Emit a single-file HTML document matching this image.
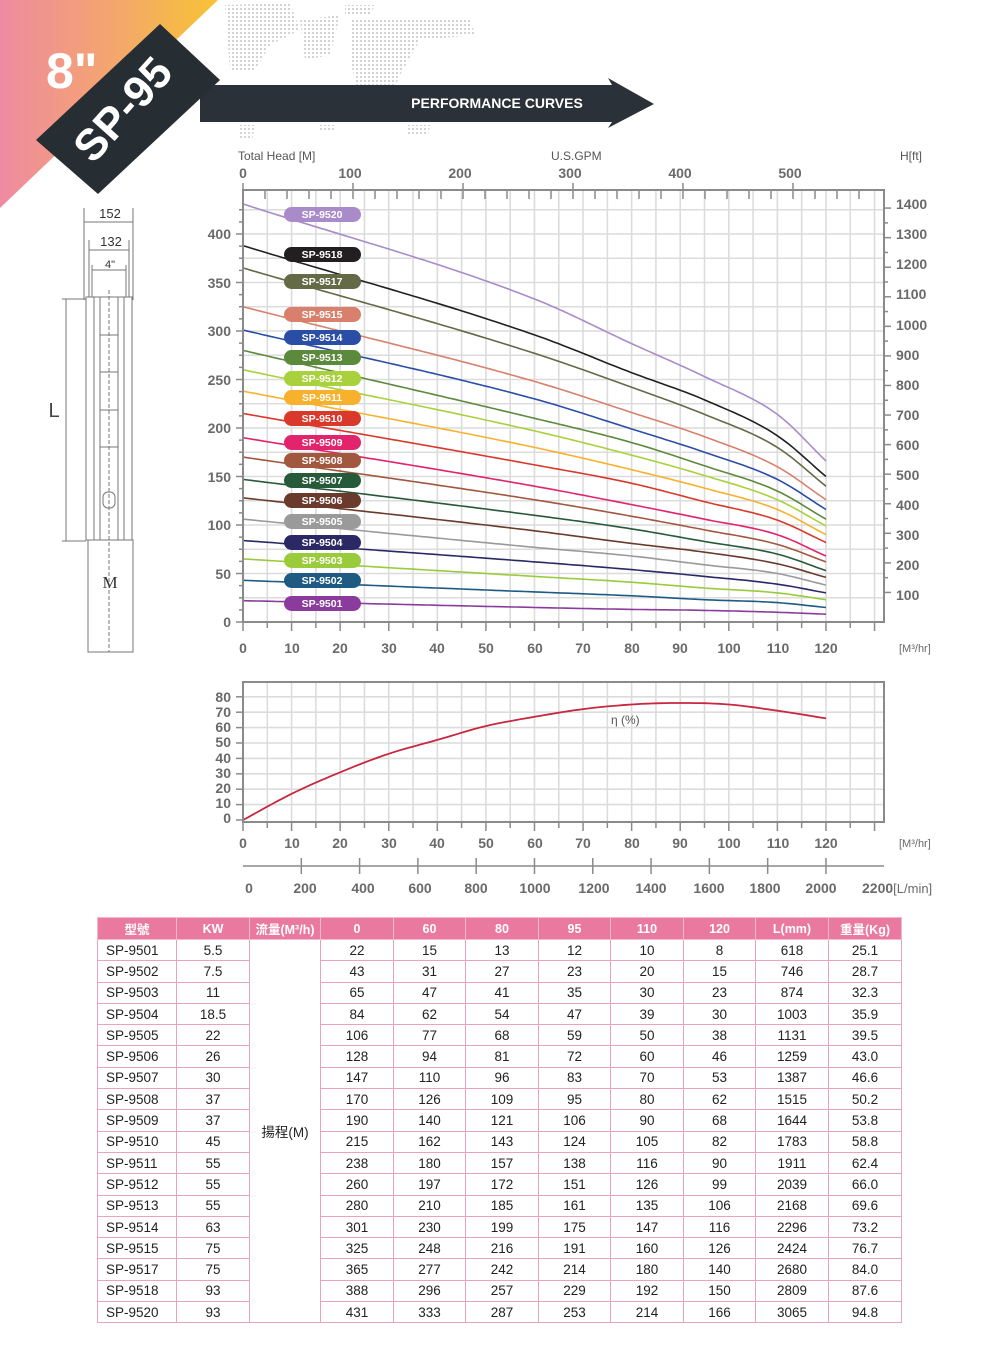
<!DOCTYPE html>
<html><head><meta charset="utf-8">
<style>
html,body{margin:0;padding:0;background:#fff;}
body{width:1004px;height:1353px;position:relative;overflow:hidden;font-family:"Liberation Sans","Noto Sans CJK TC",sans-serif;}
#svg{position:absolute;left:0;top:0;}
table{position:absolute;left:97px;top:917px;width:804px;table-layout:fixed;border-collapse:collapse;font-size:13.5px;color:#222;}
td{border:1px solid #e9a3bd;height:20.3px;padding:0;text-align:center;overflow:hidden;white-space:nowrap;}
th{background:#e9799f;color:#fff;font-weight:bold;height:21px;padding:0;border:1px solid #f3b8cc;font-size:12.5px;white-space:nowrap;overflow:hidden;}
td.m{text-align:left;padding-left:8px;}
</style></head><body>
<svg id="svg" width="1004" height="1353" xmlns="http://www.w3.org/2000/svg" font-family="Liberation Sans, sans-serif">
<defs>
<linearGradient id="bg" x1="0" y1="0" x2="1" y2="0">
<stop offset="0" stop-color="#ef8aa2"/><stop offset="0.55" stop-color="#f4a86a"/><stop offset="1" stop-color="#f7c335"/>
</linearGradient>
<pattern id="dots" width="4" height="4" patternUnits="userSpaceOnUse"><rect width="2" height="2" fill="#c9c9c9"/></pattern>
</defs>
<polygon points="0,0 218,0 0,208" fill="url(#bg)"/>
<g fill="url(#dots)" opacity="0.8">
<path d="M225,5 L290,3 L300,30 L270,45 L255,70 L230,70 Z"/>
<path d="M300,20 L340,15 L330,55 L305,60 Z"/>
<path d="M350,20 L470,18 L475,35 L420,40 L400,75 L385,110 L360,100 L350,60 Z"/>
<path d="M345,5 L375,5 L370,15 L345,15 Z"/>
<path d="M240,125 L255,125 L252,140 L240,140 Z"/>
<path d="M408,125 L430,125 L428,135 L408,135 Z"/>
<path d="M320,125 L335,125 L333,132 L320,132 Z"/>
</g>
<polygon points="200,85 612,85 608,78 654,104 608,128 612,122 200,122" fill="#2b3138"/>
<text x="497" y="108" fill="#fff" font-size="14" font-weight="bold" text-anchor="middle">PERFORMANCE  CURVES</text>
<polygon points="36,140 160,24 220,80 98,194" fill="#262d33"/>
<text x="46" y="88" fill="#fff" font-size="50" font-weight="bold">8"</text>
<text x="0" y="0" fill="#fff" font-size="44" font-weight="bold" transform="translate(93,165) rotate(-48)">SP-95</text>

<g stroke="#777" fill="none" stroke-width="1">
<rect x="86" y="297" width="46" height="243"/>
<rect x="88" y="540" width="45" height="112"/>
<line x1="94" y1="297" x2="94" y2="540"/><line x1="124" y1="297" x2="124" y2="540"/>
<line x1="100" y1="297" x2="100" y2="540"/><line x1="118" y1="297" x2="118" y2="540"/>
<line x1="109" y1="290" x2="109" y2="652" stroke-dasharray="4,2"/>
<line x1="100" y1="335" x2="118" y2="335"/><line x1="100" y1="372" x2="118" y2="372"/>
<line x1="100" y1="410" x2="118" y2="410"/><line x1="100" y1="447" x2="118" y2="447"/>
<rect x="103" y="492" width="12" height="16" rx="5"/>
<line x1="84" y1="208" x2="84" y2="300"/><line x1="133" y1="208" x2="133" y2="300"/>
<line x1="84" y1="222" x2="133" y2="222"/>
<line x1="89" y1="240" x2="89" y2="297"/><line x1="129" y1="240" x2="129" y2="297"/>
<line x1="89" y1="250" x2="129" y2="250"/>
<line x1="92" y1="270" x2="126" y2="270"/>
<line x1="92" y1="265" x2="92" y2="297"/><line x1="126" y1="265" x2="126" y2="297"/>
<line x1="62" y1="299" x2="86" y2="299"/><line x1="62" y1="541" x2="86" y2="541"/>
<line x1="66" y1="299" x2="66" y2="541"/>
</g>
<g font-size="13" fill="#333" text-anchor="middle">
<text x="110" y="218">152</text><text x="111" y="246">132</text><text x="110" y="268" font-size="11">4"</text>
<text x="54" y="417" font-size="20" fill="#444">L</text>
<text x="110" y="588" font-size="17" font-family="Liberation Serif, serif">M</text>
</g>

<g id="grid1" stroke="#dcdcdc" stroke-width="1.6"></g>
<g id="curves" fill="none" stroke-width="1.6"></g>
<rect x="243" y="190" width="641" height="432" fill="none" stroke="#8a8a8a" stroke-width="2"/>
<g id="ticks" stroke="#8a8a8a" stroke-width="1.5"></g>

<g font-size="12" fill="#555">
<text x="238" y="160">Total Head [M]</text>
<text x="551" y="160">U.S.GPM</text>
<text x="900" y="160">H[ft]</text>
</g>
<g font-size="14" font-weight="bold" fill="#6a6a6a" text-anchor="middle">
<text x="243" y="178">0</text><text x="350" y="178">100</text><text x="460" y="178">200</text><text x="570" y="178">300</text><text x="680" y="178">400</text><text x="790" y="178">500</text>
</g>
<g font-size="14" font-weight="bold" fill="#6a6a6a" text-anchor="end">
<text x="231" y="627">0</text><text x="231" y="579">50</text><text x="231" y="530">100</text><text x="231" y="482">150</text><text x="231" y="433">200</text><text x="231" y="385">250</text><text x="231" y="336">300</text><text x="231" y="288">350</text><text x="231" y="239">400</text>
</g>
<g font-size="14" font-weight="bold" fill="#6a6a6a">
<text x="896" y="600">100</text><text x="896" y="570">200</text><text x="896" y="540">300</text><text x="896" y="510">400</text><text x="896" y="480">500</text><text x="896" y="450">600</text><text x="896" y="420">700</text><text x="896" y="390">800</text><text x="896" y="360">900</text><text x="896" y="330">1000</text><text x="896" y="299">1100</text><text x="896" y="269">1200</text><text x="896" y="239">1300</text><text x="896" y="209">1400</text>
</g>
<g font-size="14" font-weight="bold" fill="#6a6a6a" text-anchor="middle">
<text x="243" y="653">0</text><text x="292" y="653">10</text><text x="340" y="653">20</text><text x="389" y="653">30</text><text x="437" y="653">40</text><text x="486" y="653">50</text><text x="535" y="653">60</text><text x="583" y="653">70</text><text x="632" y="653">80</text><text x="680" y="653">90</text><text x="729" y="653">100</text><text x="778" y="653">110</text><text x="826" y="653">120</text>
</g>
<text x="899" y="652" font-size="11" fill="#6a6a6a">[M³/hr]</text>

<g font-size="10.5" font-weight="bold" fill="#fff" text-anchor="middle">
<rect x="284" y="207" width="77" height="15" rx="7.5" fill="#a98bc9"/><text x="322" y="218">SP-9520</text>
<rect x="284" y="247" width="77" height="15" rx="7.5" fill="#231f20"/><text x="322" y="258">SP-9518</text>
<rect x="284" y="274" width="77" height="15" rx="7.5" fill="#636a45"/><text x="322" y="285">SP-9517</text>
<rect x="284" y="307" width="77" height="15" rx="7.5" fill="#d9806c"/><text x="322" y="318">SP-9515</text>
<rect x="284" y="330" width="77" height="15" rx="7.5" fill="#2a4ea6"/><text x="322" y="341">SP-9514</text>
<rect x="284" y="350" width="77" height="15" rx="7.5" fill="#5c8a3c"/><text x="322" y="361">SP-9513</text>
<rect x="284" y="371" width="77" height="15" rx="7.5" fill="#a9d13c"/><text x="322" y="382">SP-9512</text>
<rect x="284" y="390" width="77" height="15" rx="7.5" fill="#f7b12c"/><text x="322" y="401">SP-9511</text>
<rect x="284" y="411" width="77" height="15" rx="7.5" fill="#d9382b"/><text x="322" y="422">SP-9510</text>
<rect x="284" y="435" width="77" height="15" rx="7.5" fill="#e1246b"/><text x="322" y="446">SP-9509</text>
<rect x="284" y="453" width="77" height="15" rx="7.5" fill="#a2573f"/><text x="322" y="464">SP-9508</text>
<rect x="284" y="473" width="77" height="15" rx="7.5" fill="#275a3a"/><text x="322" y="484">SP-9507</text>
<rect x="284" y="493" width="77" height="15" rx="7.5" fill="#6a3b2c"/><text x="322" y="504">SP-9506</text>
<rect x="284" y="514" width="77" height="15" rx="7.5" fill="#9a9a9a"/><text x="322" y="525">SP-9505</text>
<rect x="284" y="535" width="77" height="15" rx="7.5" fill="#2a2966"/><text x="322" y="546">SP-9504</text>
<rect x="284" y="553" width="77" height="15" rx="7.5" fill="#9acb3a"/><text x="322" y="564">SP-9503</text>
<rect x="284" y="573" width="77" height="15" rx="7.5" fill="#1f5a82"/><text x="322" y="584">SP-9502</text>
<rect x="284" y="596" width="77" height="15" rx="7.5" fill="#8b3b9b"/><text x="322" y="607">SP-9501</text>
</g>

<g id="grid2" stroke="#dcdcdc" stroke-width="1.6"></g>
<path id="eff" fill="none" stroke="#c8283f" stroke-width="1.8"/>
<rect x="243" y="682" width="641" height="140" fill="none" stroke="#8a8a8a" stroke-width="2"/>
<g id="ticks2" stroke="#8a8a8a" stroke-width="1.5"></g>
<text x="611" y="724" font-size="12" fill="#555">η (%)</text>
<g font-size="14" font-weight="bold" fill="#6a6a6a" text-anchor="end">
<text x="231" y="823">0</text><text x="231" y="808">10</text><text x="231" y="793">20</text><text x="231" y="778">30</text><text x="231" y="763">40</text><text x="231" y="747">50</text><text x="231" y="732">60</text><text x="231" y="717">70</text><text x="231" y="702">80</text>
</g>
<g font-size="14" font-weight="bold" fill="#6a6a6a" text-anchor="middle">
<text x="243" y="848">0</text><text x="292" y="848">10</text><text x="340" y="848">20</text><text x="389" y="848">30</text><text x="437" y="848">40</text><text x="486" y="848">50</text><text x="535" y="848">60</text><text x="583" y="848">70</text><text x="632" y="848">80</text><text x="680" y="848">90</text><text x="729" y="848">100</text><text x="778" y="848">110</text><text x="826" y="848">120</text>
</g>
<text x="899" y="847" font-size="11" fill="#6a6a6a">[M³/hr]</text>
<line x1="243" y1="866" x2="884" y2="866" stroke="#8a8a8a" stroke-width="1.5"/>
<g id="lticks" stroke="#8a8a8a" stroke-width="1.5"></g>
<g font-size="14" font-weight="bold" fill="#6a6a6a" text-anchor="middle">
<text x="249" y="893">0</text><text x="305" y="893">200</text><text x="363" y="893">400</text><text x="420" y="893">600</text><text x="476" y="893">800</text><text x="535" y="893">1000</text><text x="594" y="893">1200</text><text x="651" y="893">1400</text><text x="709" y="893">1600</text><text x="765" y="893">1800</text><text x="821" y="893">2000</text>
</g>
<text x="862" y="893" font-size="14" font-weight="bold" fill="#6a6a6a">2200<tspan font-weight="normal" font-size="13">[L/min]</tspan></text>
</svg>

<table>
<colgroup><col style="width:79px"><col style="width:73px"><col style="width:71px"><col style="width:73px"><col style="width:72px"><col style="width:73px"><col style="width:72px"><col style="width:73px"><col style="width:72px"><col style="width:73px"><col style="width:73px"></colgroup>
<tr><th>型號</th><th>KW</th><th>流量(M³/h)</th><th>0</th><th>60</th><th>80</th><th>95</th><th>110</th><th>120</th><th>L(mm)</th><th>重量(Kg)</th></tr>
<tr><td class="m">SP-9501</td><td>5.5</td><td rowspan="18">揚程(M)</td><td>22</td><td>15</td><td>13</td><td>12</td><td>10</td><td>8</td><td>618</td><td>25.1</td></tr>
<tr><td class="m">SP-9502</td><td>7.5</td><td>43</td><td>31</td><td>27</td><td>23</td><td>20</td><td>15</td><td>746</td><td>28.7</td></tr>
<tr><td class="m">SP-9503</td><td>11</td><td>65</td><td>47</td><td>41</td><td>35</td><td>30</td><td>23</td><td>874</td><td>32.3</td></tr>
<tr><td class="m">SP-9504</td><td>18.5</td><td>84</td><td>62</td><td>54</td><td>47</td><td>39</td><td>30</td><td>1003</td><td>35.9</td></tr>
<tr><td class="m">SP-9505</td><td>22</td><td>106</td><td>77</td><td>68</td><td>59</td><td>50</td><td>38</td><td>1131</td><td>39.5</td></tr>
<tr><td class="m">SP-9506</td><td>26</td><td>128</td><td>94</td><td>81</td><td>72</td><td>60</td><td>46</td><td>1259</td><td>43.0</td></tr>
<tr><td class="m">SP-9507</td><td>30</td><td>147</td><td>110</td><td>96</td><td>83</td><td>70</td><td>53</td><td>1387</td><td>46.6</td></tr>
<tr><td class="m">SP-9508</td><td>37</td><td>170</td><td>126</td><td>109</td><td>95</td><td>80</td><td>62</td><td>1515</td><td>50.2</td></tr>
<tr><td class="m">SP-9509</td><td>37</td><td>190</td><td>140</td><td>121</td><td>106</td><td>90</td><td>68</td><td>1644</td><td>53.8</td></tr>
<tr><td class="m">SP-9510</td><td>45</td><td>215</td><td>162</td><td>143</td><td>124</td><td>105</td><td>82</td><td>1783</td><td>58.8</td></tr>
<tr><td class="m">SP-9511</td><td>55</td><td>238</td><td>180</td><td>157</td><td>138</td><td>116</td><td>90</td><td>1911</td><td>62.4</td></tr>
<tr><td class="m">SP-9512</td><td>55</td><td>260</td><td>197</td><td>172</td><td>151</td><td>126</td><td>99</td><td>2039</td><td>66.0</td></tr>
<tr><td class="m">SP-9513</td><td>55</td><td>280</td><td>210</td><td>185</td><td>161</td><td>135</td><td>106</td><td>2168</td><td>69.6</td></tr>
<tr><td class="m">SP-9514</td><td>63</td><td>301</td><td>230</td><td>199</td><td>175</td><td>147</td><td>116</td><td>2296</td><td>73.2</td></tr>
<tr><td class="m">SP-9515</td><td>75</td><td>325</td><td>248</td><td>216</td><td>191</td><td>160</td><td>126</td><td>2424</td><td>76.7</td></tr>
<tr><td class="m">SP-9517</td><td>75</td><td>365</td><td>277</td><td>242</td><td>214</td><td>180</td><td>140</td><td>2680</td><td>84.0</td></tr>
<tr><td class="m">SP-9518</td><td>93</td><td>388</td><td>296</td><td>257</td><td>229</td><td>192</td><td>150</td><td>2809</td><td>87.6</td></tr>
<tr><td class="m">SP-9520</td><td>93</td><td>431</td><td>333</td><td>287</td><td>253</td><td>214</td><td>166</td><td>3065</td><td>94.8</td></tr>
</table>

<script>
(function(){
var NS="http://www.w3.org/2000/svg";
function el(p,t,a){var e=document.createElementNS(NS,t);for(var k in a)e.setAttribute(k,a[k]);document.getElementById(p).appendChild(e);return e;}
var X=function(q){return 243+q*4.858;};
var Y=function(h){return 622-h*0.97;};
for(var q=5;q<=130;q+=5){var x=X(q);if(x<884)el("grid1","line",{x1:x,y1:190,x2:x,y2:622});}
for(var h=25;h<=425;h+=25){el("grid1","line",{x1:243,y1:Y(h),x2:884,y2:Y(h)});}
for(var h=0;h<=437;h+=12.5){var y=Y(h);if(y>=192)el("ticks","line",{x1:h%50==0?236:239,y1:y,x2:243,y2:y});}
for(var q=0;q<=132;q+=5){var x=X(q);el("ticks","line",{x1:x,y1:622,x2:x,y2:q%10==0?631:628});}
for(var g=0;g<=580;g+=20){var x=243+g*1.1;if(x>880)break;el("ticks","line",{x1:x,y1:g%100==0?183:190,x2:x,y2:199});}
for(var f=100;f<=1400;f+=50){var y=622-f*0.3048*0.97;el("ticks","line",{x1:884,y1:y,x2:f%100==0?891:888,y2:y});}
var Q=[0,60,80,95,110,120];
var D=[["#a98bc9",[431,333,287,253,214,166]],["#231f20",[388,296,257,229,192,150]],["#636a45",[365,277,242,214,180,140]],
["#d9806c",[325,248,216,191,160,126]],["#2a4ea6",[301,230,199,175,147,116]],["#5c8a3c",[280,210,185,161,135,106]],
["#a9d13c",[260,197,172,151,126,99]],["#f7b12c",[238,180,157,138,116,90]],["#d9382b",[215,162,143,124,105,82]],
["#e1246b",[190,140,121,106,90,68]],["#a2573f",[170,126,109,95,80,62]],["#275a3a",[147,110,96,83,70,53]],
["#6a3b2c",[128,94,81,72,60,46]],["#9a9a9a",[106,77,68,59,50,38]],["#2a2966",[84,62,54,47,39,30]],
["#9acb3a",[65,47,41,35,30,23]],["#1f5a82",[43,31,27,23,20,15]],["#8b3b9b",[22,15,13,12,10,8]]];
function interp(xs,ys){
 var n=xs.length,d=[],m=[];for(var i=0;i<n-1;i++)d.push((ys[i+1]-ys[i])/(xs[i+1]-xs[i]));
 m[0]=d[0];m[n-1]=d[n-2];for(var i=1;i<n-1;i++)m[i]=(d[i-1]+d[i])/2;
 return function(x){var i=0;while(i<n-2&&x>xs[i+1])i++;var hh=xs[i+1]-xs[i],t=(x-xs[i])/hh,t2=t*t,t3=t2*t;
 return (2*t3-3*t2+1)*ys[i]+(t3-2*t2+t)*hh*m[i]+(-2*t3+3*t2)*ys[i+1]+(t3-t2)*hh*m[i+1];};}
D.forEach(function(c){var f=interp(Q,c[1]);var s="";for(var q=0;q<=120;q+=1){s+=(q?"L":"M")+X(q).toFixed(1)+","+Y(f(q)).toFixed(1);}
 el("curves","path",{d:s,stroke:c[0]});});
var Ye=function(e){return 820-e*1.54;};
for(var q=5;q<=130;q+=5){var x=X(q);if(x<884)el("grid2","line",{x1:x,y1:682,x2:x,y2:822});}
for(var e=10;e<=80;e+=10){el("grid2","line",{x1:243,y1:Ye(e),x2:884,y2:Ye(e)});}
for(var e=0;e<=80;e+=10){el("ticks2","line",{x1:236,y1:Ye(e),x2:243,y2:Ye(e)});}
for(var q=0;q<=132;q+=5){var x=X(q);el("ticks2","line",{x1:x,y1:822,x2:x,y2:q%10==0?831:828});}
var EQ=[0,10,20,30,40,50,60,70,80,90,100,110,120],EV=[0,17,31,43,52,61,67,72,75,76,75,71,66];
var fe=interp(EQ,EV),s="";for(var q=0;q<=120;q++)s+=(q?"L":"M")+X(q).toFixed(1)+","+Ye(fe(q)).toFixed(1);
document.getElementById("eff").setAttribute("d",s);
for(var l=200;l<=2000;l+=200){var x=X(l*0.06);el("lticks","line",{x1:x,y1:858,x2:x,y2:874});}
})();
</script>
</body></html>
